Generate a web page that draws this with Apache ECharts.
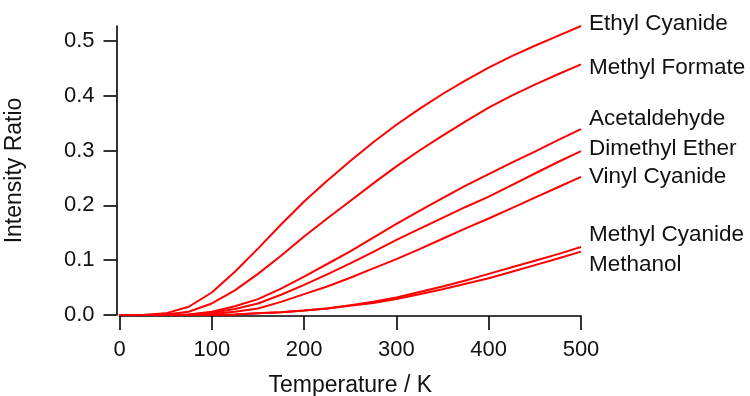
<!DOCTYPE html>
<html>
<head>
<meta charset="utf-8">
<script src="https://cdn.jsdelivr.net/npm/echarts@6/dist/echarts.min.js"></script>
<style>
html,body{margin:0;padding:0;background:#fff;}
#chart{width:750px;height:396px;}
</style>
</head>
<body>
<div id="chart"></div>
<script>
var temperatures = [0,25,50,75,100,125,150,175,200,225,250,275,300,325,350,375,400,425,450,475,500];

var ethylCyanide   = [0,0,0.003,0.015,0.041,0.079,0.121,0.165,0.207,0.245,0.281,0.315,0.347,0.376,0.403,0.428,0.451,0.472,0.491,0.509,0.527];
var methylFormate  = [0,0,0.001,0.006,0.021,0.045,0.075,0.108,0.143,0.176,0.208,0.240,0.271,0.300,0.327,0.353,0.378,0.400,0.420,0.439,0.457];
var acetaldehyde   = [0,0,0,0.001,0.006,0.016,0.029,0.048,0.070,0.093,0.116,0.141,0.166,0.190,0.213,0.236,0.257,0.278,0.298,0.319,0.339];
var dimethylEther  = [0,0,0,0.001,0.004,0.011,0.021,0.037,0.055,0.074,0.094,0.115,0.137,0.157,0.177,0.197,0.216,0.237,0.258,0.279,0.299];
var vinylCyanide   = [0,0,0,0,0.002,0.006,0.012,0.024,0.038,0.052,0.068,0.085,0.102,0.120,0.139,0.158,0.176,0.195,0.214,0.233,0.252];
var methylCyanide  = [0,0,0,0,0.0005,0.001,0.003,0.005,0.008,0.012,0.018,0.024,0.032,0.042,0.052,0.063,0.075,0.087,0.099,0.111,0.124];
var methanol       = [0,0,0,0,0.0005,0.001,0.003,0.005,0.008,0.012,0.017,0.022,0.029,0.038,0.047,0.057,0.067,0.079,0.091,0.103,0.1155];

var seriesNames = ['Ethyl Cyanide','Methyl Formate','Acetaldehyde','Dimethyl Ether','Vinyl Cyanide','Methyl Cyanide','Methanol'];
var seriesValues = [ethylCyanide, methylFormate, acetaldehyde, dimethylEther, vinylCyanide, methylCyanide, methanol];

var xTicks = [0,100,200,300,400,500];
var yTicks = [0,0.1,0.2,0.3,0.4,0.5];

// label vertical nudges (layout only)
var labelDy = [-2, 3.5, -10, -2, 0, -12, 13];

var font = 'Liberation Sans, Arial, Helvetica, sans-serif';
var ink = '#111';

var chart = echarts.init(document.getElementById('chart'), null, {renderer:'canvas'});

var series = seriesNames.map(function(name, i){
  return {
    name: name,
    type: 'line',
    data: temperatures.map(function(t, j){ return [t, seriesValues[i][j]]; }),
    showSymbol: false,
    symbol: 'none',
    smooth: false,
    lineStyle: {color: '#ff0000', width: 2},
    itemStyle: {color: '#ff0000'},
    emphasis: {disabled: true},
    endLabel: {
      show: true,
      formatter: name,
      distance: 8,
      offset: [0, labelDy[i]],
      color: ink,
      fontFamily: font,
      fontSize: 22.5
    },
    z: 2
  };
});

chart.setOption({
  animation: false,
  backgroundColor: '#fff',
  grid: {left: 119.5, right: 169, top: 26, bottom: 81, containLabel: false, outerBoundsMode: 'none'},
  xAxis: {
    type: 'value',
    min: 0, max: 500, interval: 100,
    offset: 1,
    name: 'Temperature / K',
    nameLocation: 'middle',
    nameGap: 58,
    nameTextStyle: {color: ink, fontFamily: font, fontSize: 23},
    axisLine: {show: true, onZero: false, lineStyle: {color: '#000', width: 1.6}},
    axisTick: {show: true, inside: false, length: 14, lineStyle: {color: '#000', width: 1.6}, customValues: xTicks},
    axisLabel: {color: ink, fontFamily: font, fontSize: 22, margin: 23, customValues: xTicks},
    splitLine: {show: false}
  },
  yAxis: {
    type: 'value',
    min: 0, max: 0.527,
    offset: 3,
    name: 'Intensity Ratio',
    nameLocation: 'middle',
    nameGap: 90,
    nameRotate: 90,
    nameTextStyle: {color: ink, fontFamily: font, fontSize: 23},
    axisLine: {show: true, onZero: false, lineStyle: {color: '#000', width: 1.6}},
    axisTick: {show: true, inside: false, length: 13, lineStyle: {color: '#000', width: 1.6}, customValues: yTicks},
    axisLabel: {color: ink, fontFamily: font, fontSize: 22, margin: 22, customValues: yTicks,
      formatter: function(v){ return v.toFixed(1); }},
    splitLine: {show: false}
  },
  series: series
});
</script>
</body>
</html>
